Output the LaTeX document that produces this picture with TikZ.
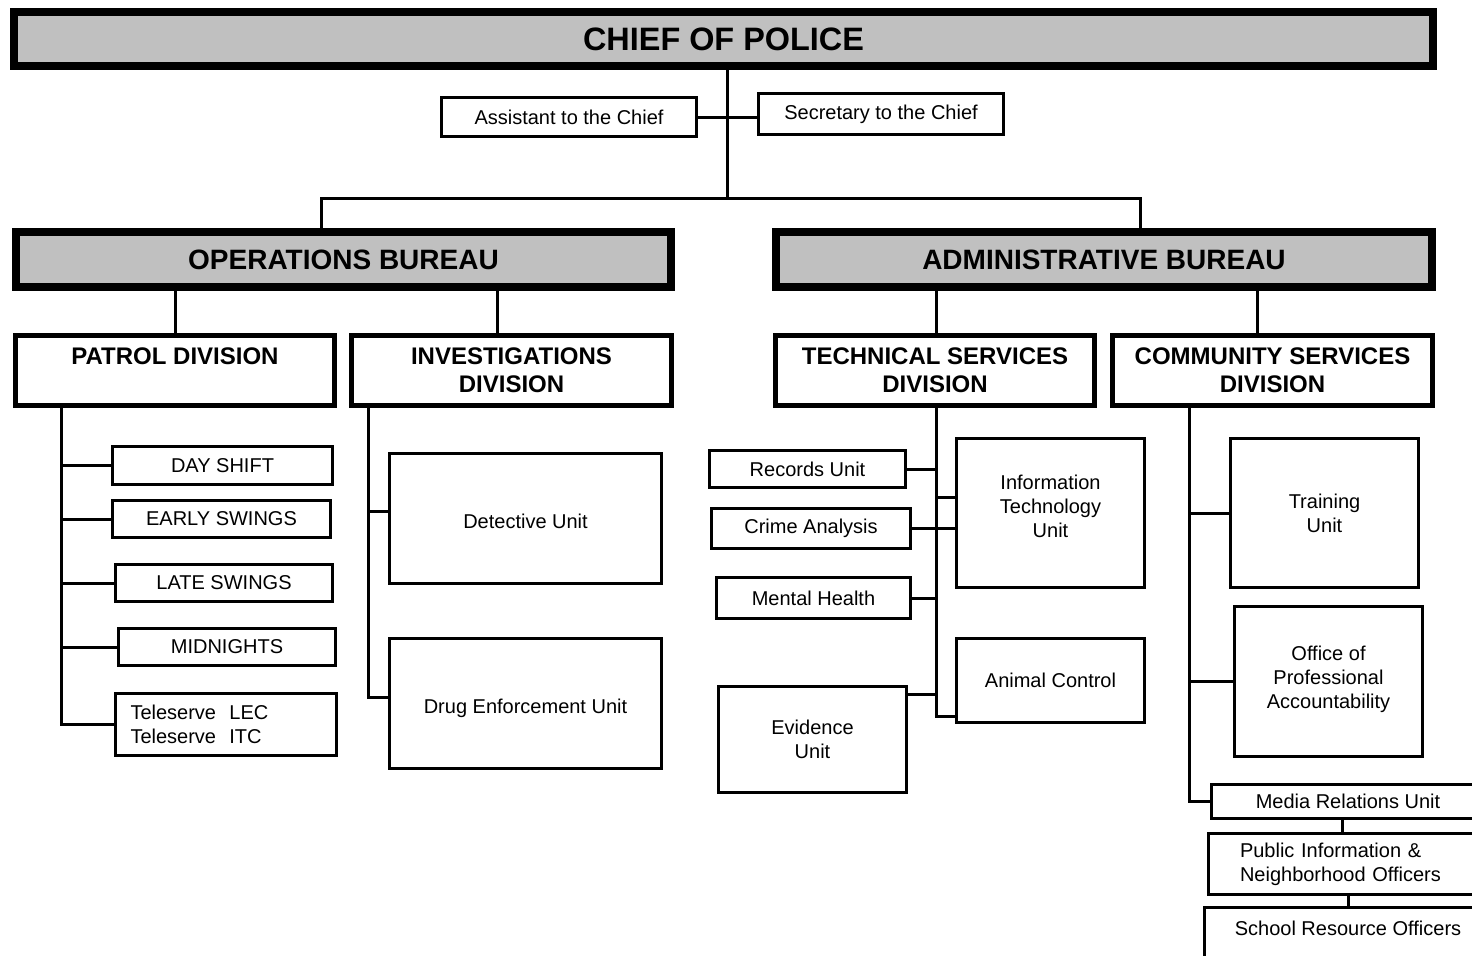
\documentclass[tikz,border=0pt]{standalone}
\usepackage{fontspec}
\setmainfont{Liberation Sans}
\definecolor{hdgray}{HTML}{C0C0C0}
\begin{document}
\begin{tikzpicture}[x=0.5pt,y=-0.5pt,
  bureau/.style={draw,line width=4pt,fill=hdgray,font=\fontsize{14}{16}\selectfont\bfseries,inner sep=0pt},
  division/.style={draw,line width=2.5pt,fill=white,font=\fontsize{12}{14}\selectfont\bfseries,align=center,inner sep=0pt},
  unit/.style={draw,line width=1.5pt,fill=white,font=\fontsize{10}{12}\selectfont,align=center,inner sep=0pt},
  link/.style={line width=1.5pt}]
\useasboundingbox (0,0) rectangle (1472,955);
\clip (0,0) rectangle (1472,955);
\fill[white] (0,0) rectangle (1472,955);

% top level
\node[bureau,font=\fontsize{16.2}{18}\selectfont\bfseries,minimum width=709.5pt,minimum height=27pt] (chief) at (723.5,39) {CHIEF OF POLICE};
\node[unit,minimum width=127.5pt,minimum height=19.5pt] (asst) at (569,117) {Assistant to the Chief};
\node[unit,minimum width=122.5pt,minimum height=20.5pt] (sec) at (881,114) {Secretary to the Chief};

% bureaus
\node[bureau,minimum width=327.5pt,minimum height=27.5pt] (ops) at (343.5,259.5) {OPERATIONS BUREAU};
\node[bureau,minimum width=328pt,minimum height=27.5pt] (adm) at (1104,259.5) {ADMINISTRATIVE BUREAU};

% divisions
\node[division,minimum width=159.5pt,minimum height=35pt] (patrol) at (175,370.5) {PATROL DIVISION\\\mbox{}};
\node[division,minimum width=160pt,minimum height=35pt] (inv) at (511.5,370.5) {INVESTIGATIONS\\DIVISION};
\node[division,minimum width=159.5pt,minimum height=35pt] (tech) at (935,370.5) {TECHNICAL SERVICES\\DIVISION};
\node[division,minimum width=160pt,minimum height=35pt] (comm) at (1272.5,370.5) {COMMUNITY SERVICES\\DIVISION};

% patrol units
\node[unit,minimum width=110pt,minimum height=19pt] (day) at (222.5,465.5) {DAY SHIFT};
\node[unit,minimum width=109pt,minimum height=18.5pt] (early) at (221.5,519) {EARLY SWINGS};
\node[unit,minimum width=108.5pt,minimum height=18.5pt] (late) at (224,583) {LATE SWINGS};
\node[unit,minimum width=108.5pt,minimum height=18.5pt] (mid) at (227,647) {MIDNIGHTS};
\node[unit,align=left,text width=95.5pt,inner xsep=7.5pt,minimum height=31pt] (tele) at (226,724.5) {Teleserve~~LEC\\Teleserve~~ITC};

% investigations units
\node[unit,minimum width=136pt,minimum height=65pt,text height=10.2pt] (det) at (525.5,518.5) {Detective Unit};
\node[unit,minimum width=136pt,minimum height=65pt,text height=12pt] (drug) at (525.5,703.5) {Drug Enforcement Unit};

% technical services units
\node[unit,minimum width=98pt,minimum height=18.5pt] (rec) at (807.5,469) {Records Unit};
\node[unit,minimum width=99.5pt,minimum height=20pt] (crime) at (811,528.5) {Crime Analysis};
\node[unit,minimum width=97pt,minimum height=20.5pt] (mental) at (813.5,598) {Mental Health};
\node[unit,minimum width=94pt,minimum height=53pt] (evid) at (812.5,739.5) {Evidence\\Unit};
\node[unit,minimum width=94pt,minimum height=74.5pt,text depth=7pt] (it) at (1050.5,513) {Information\\Technology\\Unit};
\node[unit,minimum width=94pt,minimum height=42pt] (animal) at (1050.5,680.5) {Animal Control};

% community services units
\node[unit,minimum width=94pt,minimum height=74.5pt] (train) at (1324.5,513) {Training\\Unit};
\node[unit,minimum width=94pt,minimum height=75pt,text depth=4pt] (opa) at (1328.5,681.5) {Office of\\Professional\\Accountability};
\node[unit,minimum width=136.5pt,minimum height=17pt] (media) at (1348,801.5) {Media Relations Unit};
\node[unit,align=left,text width=102.25pt,inner xsep=15.75pt,minimum height=30.5pt] (pub) at (1342.25,864) {Public Information \&\\Neighborhood Officers};
\node[unit,minimum width=143.5pt,minimum height=32.5pt] (school) at (1348,940) {School Resource Officers\\\mbox{}};

% bus coordinates
\coordinate (topx) at (727,198);
\coordinate (opsx) at (321,0);
\coordinate (admx) at (1140,0);
\coordinate (invx) at (497,0);
\coordinate (comx) at (1257,0);
\coordinate (pbus) at (61,0);
\coordinate (ibus) at (368,0);
\coordinate (tbus) at (936,0);
\coordinate (cbus) at (1189,0);
\coordinate (detc) at ([yshift=3.75pt]det.west);
\coordinate (drugc) at ([yshift=3.25pt]drug.west);
\coordinate (it1) at ([yshift=8pt]it.west);
\coordinate (anc) at ([yshift=3.75pt]animal.south west);
\coordinate (evc) at ([yshift=-4.75pt]evid.north east);

% connectors
\draw[link] (chief.south -| topx) -- (topx);
\draw[link] (asst.east) -- (asst.east -| sec.west);
\draw[link] (ops.north -| opsx) -- (opsx |- topx) -- (admx |- topx) -- (adm.north -| admx);
\draw[link] (patrol.north) -- (patrol.north |- ops.south);
\draw[link] (inv.north -| invx) -- (ops.south -| invx);
\draw[link] (tech.north -| tbus) -- (adm.south -| tbus);
\draw[link] (comm.north -| comx) -- (adm.south -| comx);

\draw[link] (patrol.south -| pbus) -- (pbus |- tele.west) -- (tele.west);
\foreach \n in {day,early,late,mid} \draw[link] (\n.west) -- (\n.west -| pbus);

\draw[link] (inv.south -| ibus) -- (ibus |- drugc) -- (drugc);
\draw[link] (detc) -- (detc -| ibus);

\draw[link] (tech.south -| tbus) -- (tbus |- anc) -- (anc);
\draw[link] (rec.east) -- (rec.east -| tbus);
\draw[link] (it1) -- (it1 -| tbus);
\draw[link] (crime.east) -- (crime.east -| it.west);
\draw[link] (mental.east) -- (mental.east -| tbus);
\draw[link] (evc) -- (evc -| tbus);

\draw[link] (comm.south -| cbus) -- (cbus |- media.west) -- (media.west);
\draw[link] (train.west) -- (train.west -| cbus);
\draw[link] (opa.west) -- (opa.west -| cbus);
\draw[link] (pub.north) -- (pub.north |- media.south);
\draw[link] (school.north) -- (school.north |- pub.south);
\end{tikzpicture}
\end{document}
